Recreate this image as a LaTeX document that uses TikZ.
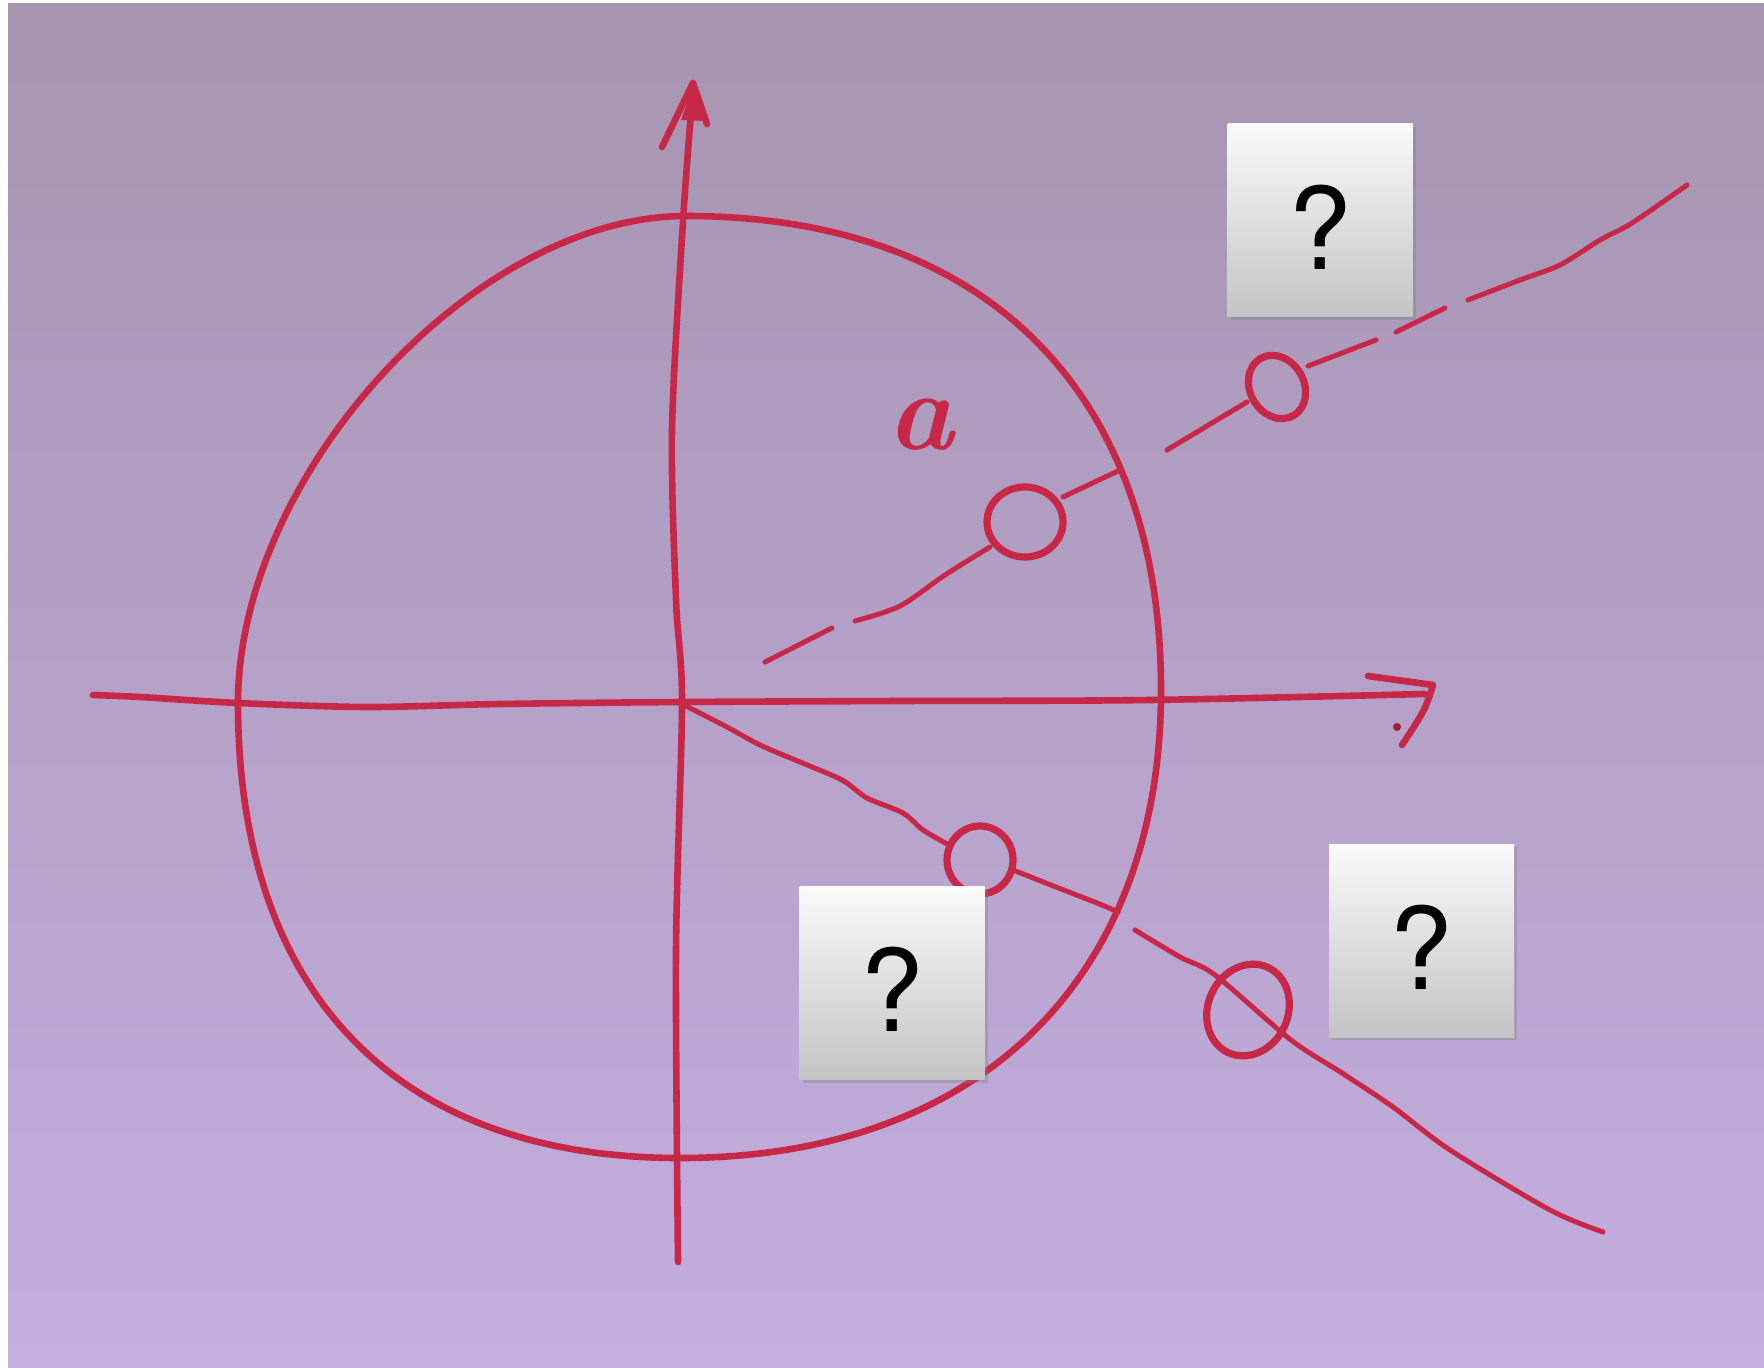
\documentclass[tikz,border=0pt]{standalone}
\usepackage{fontspec}
\newfontfamily\qfont{TeX Gyre Heros}
\usetikzlibrary{shadows}
\definecolor{ink}{RGB}{200,40,72}
\definecolor{bgtop}{RGB}{166,148,176}
\definecolor{bgmid}{RGB}{182,166,212}
\definecolor{bgbot}{RGB}{196,174,224}
\definecolor{boxtop}{RGB}{250,250,250}
\definecolor{boxbot}{RGB}{196,196,196}
\begin{document}
\begin{tikzpicture}[x=0.5pt,y=-0.5pt,
  pen/.style={draw=ink, line width=3.3pt, line cap=round, line join=round},
  thinpen/.style={draw=ink, line width=2.5pt, line cap=round, line join=round},
  ringpen/.style={draw=ink, line width=3.6pt},
  qbox/.style={rectangle, minimum width=92.5pt, minimum height=96.5pt, inner sep=0pt,
    top color=boxtop, bottom color=boxbot, draw=none,
    drop shadow={shadow xshift=1.5pt, shadow yshift=-1.5pt, opacity=0.35},
    text height=48.6pt, text depth=0pt,
    font=\qfont\fontsize{57}{60}\selectfont, text=black}]
\useasboundingbox (0,0) rectangle (1764,1368);
\fill[white] (0,0) rectangle (1764,1368);
\shade[top color=bgtop, middle color=bgmid, bottom color=bgbot] (8,4) rectangle (1764,1368);

% circle (hand drawn oval)
\draw[pen] (686,216) .. controls (985,216) and (1161,391) .. (1161,690)
  .. controls (1161,980) and (978,1158) .. (680,1158)
  .. controls (397,1158) and (238,994) .. (238,703)
  .. controls (238,474) and (475,216) .. (686,216) -- cycle;

% vertical axis
\draw[pen] plot[smooth, tension=0.5] coordinates {(693,88) (683,221) (672,430) (676,600) (682,703) (676,950) (678,1262)};
\draw[pen] (662,147) -- (693,83) -- (707,124);
\fill[ink] (681,120) -- (693,86) -- (705,121) -- cycle;

% horizontal axis
\draw[pen] plot[smooth, tension=0.5] coordinates {(93,695) (140,697) (238,703) (367,707) (500,704) (683,702) (900,701) (1150,700) (1425,694)};
\draw[pen] (1368,676) -- (1433,685) .. controls (1425,710) .. (1402,745);
\fill[ink!80!black] (1397,727) circle [radius=4];

% upper ray
\draw[thinpen] (765,662) -- (832,628);
\draw[thinpen] plot[smooth] coordinates {(855,621) (900,606) (945,575) (990,547)};
\draw[ringpen] (1025,522) ellipse [x radius=38, y radius=35];
\draw[thinpen] (1063,497) -- (1120,470);
\draw[thinpen] (1167,450) -- (1247,402);
\draw[ringpen, rotate around={30:(1277,387)}] (1277,387) ellipse [x radius=27, y radius=33];
\draw[thinpen] (1308,366) -- (1376,340);
\draw[thinpen] (1396,332) -- (1445,308);
\draw[thinpen] plot[smooth] coordinates {(1468,300) (1520,280) (1560,265) (1600,240) (1632,223) (1687,185)};

% lower ray
\draw[thinpen] plot[smooth] coordinates {(684,705) (727,727) (760,745) (800,762) (842,780) (867,798) (903,813) (923,830) (949,845)};
\draw[ringpen] (980,860) ellipse [x radius=33, y radius=34];
\draw[thinpen] plot[smooth] coordinates {(1013,870) (1056,887) (1102,905) (1118,912)};
\draw[thinpen] plot[smooth] coordinates {(1135,930) (1180,957) (1215,975) (1291,1040) (1342,1073) (1393,1107) (1450,1150) (1550,1210) (1603,1232)};
\draw[ringpen, rotate around={-25:(1248,1010)}] (1248,1010) ellipse [x radius=40, y radius=47];

% label
\node[text=ink, font=\fontsize{56}{60}\selectfont\bfseries\itshape] (lbla) at (921,425) {a};

% question boxes
\node[qbox] (q1) at (1320,220.5) {?};
\node[qbox] (q2) at (892,983) {?};
\node[qbox] (q3) at (1421.5,940.5) {?};
\end{tikzpicture}
\end{document}
